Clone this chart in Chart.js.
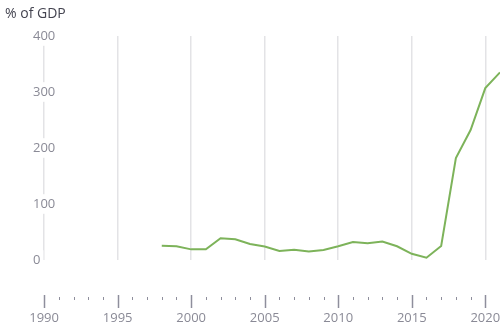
<!DOCTYPE html>
<html>
<head>
<meta charset="utf-8">
<script src="https://cdn.jsdelivr.net/npm/chart.js@4"></script>
<style>
  html, body { margin: 0; padding: 0; background: #fff; }
  #wrap { position: relative; width: 500px; height: 331px; }
  #unit { position: absolute; left: 5px; top: 3px; font: 14px "Open Sans", sans-serif; color: #444450; }
</style>
</head>
<body>
<div id="wrap">
  <div id="unit">% of GDP</div>
  <canvas id="chart" width="500" height="331"></canvas>
</div>
<script>
const years = [1998,1999,2000,2001,2002,2003,2004,2005,2006,2007,2008,2009,2010,2011,2012,2013,2014,2015,2016,2017,2018,2019,2020,2021];
const debt  = [25.5,24.5,19,19,39,37,28.5,24,16,18.5,15,18,24.5,32,30,33,24.5,11,4,25,182,232,307,335];
const yTicks = [0,100,200,300,400];
const xTicks = [1990,1995,2000,2005,2010,2015,2020];

const tickMarks = {
    id:"tickMarks",
    afterDraw(chart){
        const ctx = chart.ctx, x = chart.scales.x;
        ctx.save();
        ctx.strokeStyle = "#8e8e9c";
        for(let yr=1990; yr<=2021; yr++){
            let px = Math.round(x.getPixelForValue(yr))+0.5;
            let major = yr%5===0;
            ctx.lineWidth = major?1.5:1;
            ctx.beginPath();
            ctx.moveTo(px, major?295:297);
            ctx.lineTo(px, major?308:300);
            ctx.stroke();
        }
        ctx.restore();
    }
};

new Chart(document.getElementById("chart"),{
    type:"line",
    data:{
        datasets:[{
            data: years.map((y,i)=>({x:y, y:debt[i]})),
            borderColor:"#7db35a",
            borderWidth:2,
            pointRadius:0,
            tension:0
        }]
    },
    options:{
        responsive:false,
        animation:false,
        layout:{ padding:{ top:36, bottom:6, left:0, right:0 } },
        plugins:{ legend:{display:false}, tooltip:{enabled:false} },
        scales:{
            x:{
                type:"linear",
                min:1987, max:2021,
                border:{display:false},
                afterBuildTicks:s=>{ s.ticks = xTicks.map(v=>({value:v})); },
                afterFit:s=>{ s.height = 65; s.paddingLeft = 0; s.paddingRight = 0; },
                grid:{
                    drawTicks:false,
                    color:"#e3e3e6",
                    lineWidth:1.5
                },
                ticks:{
                    autoSkip:false,
                    maxRotation:0,
                    padding:50,
                    color:"#8a8a96",
                    font:{family:"Open Sans", size:13},
                    callback:v=>String(v)
                }
            },
            y:{
                min:0, max:400,
                border:{display:false},
                grid:{display:false, drawTicks:false},
                afterBuildTicks:s=>{ s.ticks = yTicks.map(v=>({value:v})); },
                afterFit:s=>{ s.width = 0; s.paddingTop = 0; s.paddingBottom = 0; },
                ticks:{
                    mirror:true,
                    padding:33,
                    showLabelBackdrop:true,
                    backdropColor:"#ffffff",
                    backdropPadding:{top:2,bottom:2,left:2,right:3},
                    color:"#8a8a96",
                    font:{family:"Open Sans", size:13}
                }
            }
        }
    },
    plugins:[tickMarks]
});
</script>
</body>
</html>
